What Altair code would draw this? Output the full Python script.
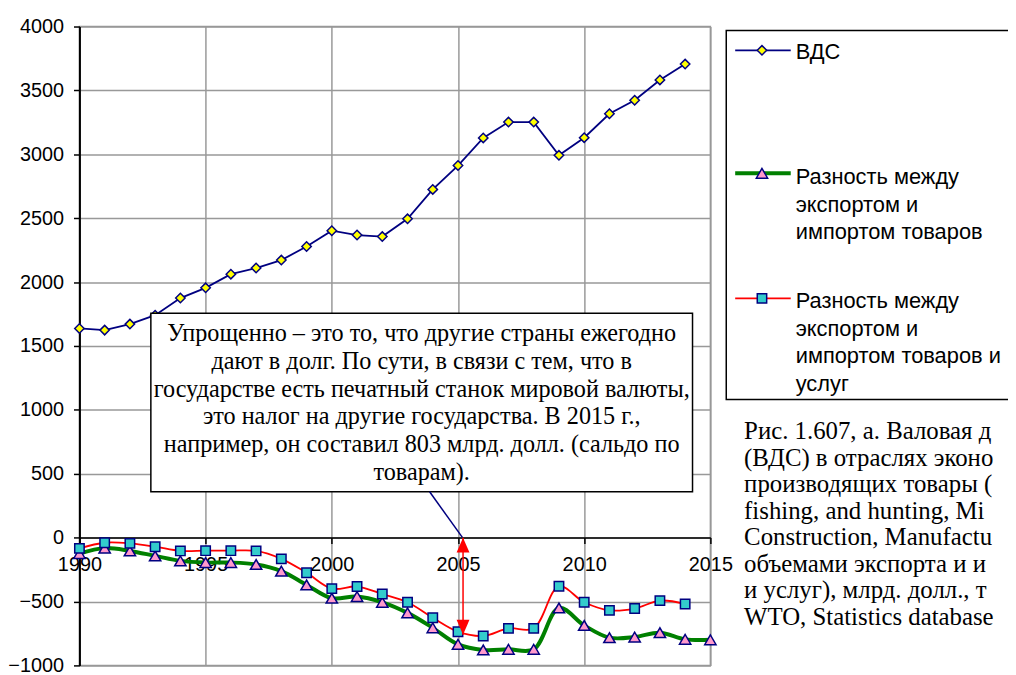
import altair as alt
import pandas as pd

# ---------------- data ----------------
years = list(range(1990, 2016))
vds = [1637, 1624, 1671, 1741, 1875, 1955, 2062, 2110, 2172, 2278, 2402, 2368, 2356,
       2495, 2725, 2912, 3128, 3252, 3252, 2992, 3130, 3317, 3423, 3582, 3706, None]
goods = [-125, -82, -104, -143, -182, -195, -195, -210, -262, -370, -474, -461, -506,
         -589, -706, -835, -879, -874, -874, -550, -687, -783, -778, -744, -796, -800]
goods_services = [-84, -40, -45, -71, -104, -102, -102, -104, -166, -275, -399, -383, -441,
                  -506, -627, -736, -770, -710, -710, -381, -506, -569, -555, -493, -519, None]

x_ticks = [1990, 1995, 2000, 2005, 2010, 2015]
y_ticks = list(range(-1000, 4001, 500))

legend_vds = ["ВДС"]
legend_goods = ["Разность между", "экспортом и", "импортом товаров"]
legend_gs = ["Разность между", "экспортом и", "импортом товаров и", "услуг"]

box_lines = [
    "Упрощенно – это то, что другие страны ежегодно",
    "дают в долг. По сути, в связи с тем, что в",
    "государстве есть  печатный станок мировой валюты,",
    "это налог на другие государства. В 2015 г.,",
    "например, он составил 803 млрд. долл. (сальдо по",
    "товарам).",
]

# the caption runs off the right edge of the picture; only its visible part is kept
caption_lines = [
    "Рис. 1.607, а. Валовая д",
    "(ВДС) в отраслях эконо",
    "производящих товары (",
    "fishing, and hunting, Mi",
    "Construction, Manufactu",
    "объемами экспорта и и",
    "и услуг), млрд. долл., т",
    "WTO, Statistics database",
]

arrow_year = 2005.2
arrow_top = 0
arrow_bottom = -760

# ---------------- helpers ----------------
def series_df(vals):
    rows = [(y, v) for y, v in zip(years, vals) if v is not None]
    return pd.DataFrame(rows, columns=["year", "value"])

one = pd.DataFrame({"k": [0]})

NAVY = "#000080"
GRID = "#999999"
SANS = "Liberation Sans"
SERIF = "Liberation Serif"

X = alt.X("year:Q",
          scale=alt.Scale(domain=[1990, 2015], nice=False, zero=False),
          axis=alt.Axis(values=x_ticks, format="d", title=None, offset=-129,
                        labelFlush=False, labelOverlap=False,
                        grid=True, gridColor=GRID, gridWidth=1.5, gridOpacity=1,
                        domainColor="black", domainWidth=1.5,
                        tickColor="black", tickWidth=1.5, tickSize=6,
                        labelFont=SANS, labelFontSize=20, labelColor="black",
                        labelPadding=11.5))
Y = alt.Y("value:Q",
          scale=alt.Scale(domain=[-1000, 4000], nice=False, zero=False),
          axis=alt.Axis(values=y_ticks, format="d", title=None,
                        grid=True, gridColor=GRID, gridWidth=1.5, gridOpacity=1,
                        domainColor="black", domainWidth=2,
                        tickColor="black", tickWidth=1.5, tickSize=6,
                        labelFont=SANS, labelFontSize=20, labelColor="black",
                        labelPadding=10))

vds_df = series_df(vds)
goods_df = series_df(goods)
gs_df = series_df(goods_services)

vds_line = alt.Chart(vds_df).mark_line(color=NAVY, strokeWidth=1.8).encode(x=X, y=Y)
vds_pts = alt.Chart(vds_df).mark_point(shape="diamond", filled=True, fill="#ffff00",
                                       stroke=NAVY, strokeWidth=1.5, size=90,
                                       opacity=1).encode(x="year:Q", y="value:Q")

goods_line = alt.Chart(goods_df).mark_line(color="#008000", strokeWidth=4,
                                           interpolate="catmull-rom").encode(x="year:Q", y="value:Q")
goods_pts = alt.Chart(goods_df).mark_point(shape="triangle-up", filled=True, fill="#ff99cc",
                                           stroke=NAVY, strokeWidth=1.5, size=130,
                                           opacity=1).encode(x="year:Q", y="value:Q")

gs_line = alt.Chart(gs_df).mark_line(color="#ff0000", strokeWidth=1.8,
                                     interpolate="catmull-rom").encode(x="year:Q", y="value:Q")
gs_pts = alt.Chart(gs_df).mark_point(shape="square", filled=True, fill="#33cccc",
                                     stroke=NAVY, strokeWidth=1.5, size=90,
                                     opacity=1).encode(x="year:Q", y="value:Q")

# ---------------- callout box ----------------
box = alt.Chart(one).mark_rect(fill="white", stroke="black", strokeWidth=1.5).encode(
    x=alt.value(72), x2=alt.value(618), y=alt.value(289), y2=alt.value(469))
box_text = alt.Chart(one).mark_text(font=SERIF, fontSize=24.4, lineHeight=28, align="center",
                                    baseline="top", color="black").encode(
    x=alt.value(345), y=alt.value(298), text=alt.value(box_lines))
callout = alt.Chart(one).mark_rule(color=NAVY, strokeWidth=1.5).encode(
    x=alt.value(353), y=alt.value(469), x2=alt.value(386), y2=alt.value(515))

# ---------------- red double arrow ----------------
arrow = alt.Chart(one).mark_rule(color="#ff0000", strokeWidth=1.5).encode(
    x=alt.datum(arrow_year), y=alt.datum(arrow_top), y2=alt.datum(arrow_bottom))
head_up = alt.Chart(one).mark_point(shape="M0,0L0.433,1L-0.433,1Z", filled=True, fill="#ff0000",
                                    strokeWidth=0, size=900, opacity=1).encode(
    x=alt.datum(arrow_year), y=alt.datum(arrow_top))
head_down = alt.Chart(one).mark_point(shape="M0,0L0.433,-1L-0.433,-1Z", filled=True, fill="#ff0000",
                                      strokeWidth=0, size=900, opacity=1).encode(
    x=alt.datum(arrow_year), y=alt.datum(arrow_bottom))

# ---------------- legend ----------------
leg_box = alt.Chart(one).mark_rect(fill="white", stroke="black", strokeWidth=1.5).encode(
    x=alt.value(652), x2=alt.value(1000), y=alt.value(4), y2=alt.value(376))

def leg_line(color, width, yy):
    return alt.Chart(one).mark_rule(color=color, strokeWidth=width).encode(
        x=alt.value(661), x2=alt.value(717), y=alt.value(yy))

def leg_pt(shape, fill, size, yy):
    return alt.Chart(one).mark_point(shape=shape, filled=True, fill=fill, stroke=NAVY,
                                     strokeWidth=1.5, size=size, opacity=1).encode(
        x=alt.value(688), y=alt.value(yy))

def leg_text(lines, yy):
    return alt.Chart(one).mark_text(font=SANS, fontSize=22, lineHeight=28, align="left",
                                    baseline="top", color="black").encode(
        x=alt.value(722), y=alt.value(yy), text=alt.value(lines))

legend_layers = [
    leg_box,
    leg_line(NAVY, 1.8, 24), leg_pt("diamond", "#ffff00", 90, 24), leg_text(legend_vds, 15.5),
    leg_line("#008000", 4, 148), leg_pt("triangle-up", "#ff99cc", 130, 148), leg_text(legend_goods, 141.5),
    leg_line("#ff0000", 1.8, 274), leg_pt("square", "#33cccc", 90, 274), leg_text(legend_gs, 266.5),
]

caption = alt.Chart(one).mark_text(font=SERIF, fontSize=25, lineHeight=26.7, align="left",
                                   baseline="top", color="black").encode(
    x=alt.value(670), y=alt.value(396), text=alt.value(caption_lines))

chart = alt.layer(
    vds_line, vds_pts, box, box_text, callout,
    goods_line, goods_pts, gs_line, gs_pts,
    arrow, head_up, head_down,
    *legend_layers, caption,
).properties(
    width=636, height=644,
    padding={"left": 72, "top": 16, "right": 300, "bottom": 7},
    autosize=alt.AutoSizeParams(type="none"),
).configure_view(stroke=GRID, strokeWidth=1.5)

chart.save("out.html", embed_options={"renderer": "svg", "actions": False})
